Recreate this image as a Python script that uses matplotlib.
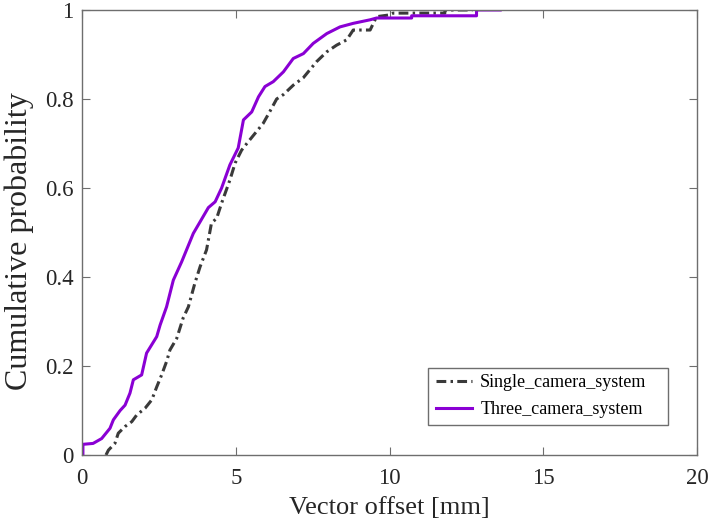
import matplotlib
matplotlib.use("Agg")
import matplotlib.pyplot as plt
from matplotlib.patches import Rectangle

three_x = [0.03, 0.03, 0.36, 0.64, 0.91, 1.02, 1.24, 1.40, 1.56, 1.67, 1.94, 2.10, 2.43, 2.54,
           2.75, 2.97, 3.24, 3.40, 3.62, 3.84, 4.11, 4.33, 4.54, 4.81, 5.08, 5.25, 5.52, 5.74,
           5.95, 6.22, 6.55, 6.87, 7.20, 7.52, 7.96, 8.39, 8.82, 9.37, 9.58, 10.72, 10.72,
           12.83, 12.83, 13.6]
three_y = [0.0, 0.024, 0.026, 0.037, 0.06, 0.079, 0.10, 0.112, 0.139, 0.169, 0.18, 0.229, 0.266,
           0.292, 0.333, 0.393, 0.434, 0.461, 0.498, 0.524, 0.556, 0.569, 0.60, 0.652, 0.69, 0.753,
           0.771, 0.805, 0.828, 0.839, 0.861, 0.891, 0.902, 0.925, 0.947, 0.962, 0.970, 0.978,
           0.982, 0.982, 0.987, 0.987, 1.0, 1.0]

single_x = [0.78, 0.86, 1.07, 1.18, 1.40, 1.62, 1.78, 2.05, 2.27, 2.43, 2.59, 2.75, 2.86, 3.08,
            3.29, 3.46, 3.67, 3.84, 4.05, 4.21, 4.38, 4.54, 4.81, 4.98, 5.19, 5.36, 5.63, 5.89,
            6.11, 6.33, 6.55, 6.87, 7.20, 7.63, 7.96, 8.28, 8.61, 8.82, 9.37, 9.53, 9.58, 10.0,
            10.12, 11.8, 11.8, 12.7]
single_y = [0.0, 0.011, 0.026, 0.049, 0.064, 0.075, 0.09, 0.105, 0.124, 0.153, 0.18, 0.21, 0.236,
            0.262, 0.308, 0.333, 0.386, 0.423, 0.461, 0.521, 0.532, 0.566, 0.618, 0.656, 0.685,
            0.70, 0.723, 0.745, 0.772, 0.80, 0.81, 0.831, 0.848, 0.884, 0.906, 0.921, 0.933, 0.955,
            0.955, 0.978, 0.985, 0.989, 0.993, 0.993, 1.0, 1.0]

x_ticks = [0, 5, 10, 15, 20]
y_ticks = [0, 0.2, 0.4, 0.6, 0.8, 1]
y_tick_labels = ["0", "0.2", "0.4", "0.6", "0.8", "1"]
labels = ["Single_camera_system", "Three_camera_system"]

plt.rcParams['font.family'] = ['Liberation Serif', 'DejaVu Serif']

W, H = 709, 524
fig = plt.figure(figsize=(W / 100, H / 100), dpi=100)
ax_l, ax_b, ax_w, ax_h = 82, 69, 615, 445
ax = fig.add_axes([ax_l / W, ax_b / H, ax_w / W, ax_h / H])

ax.plot(single_x, single_y, color='#3a3a3a', linestyle=(0, (3.2, 1.4, 0.8, 1.4)),
        linewidth=2.2, label=labels[0])
ax.plot(three_x, three_y, color='#8A00D4', linestyle='-',
        linewidth=2.2, label=labels[1])

ax.set_xlim(0, 20)
ax.set_ylim(0, 1)
ax.set_xticks(x_ticks)
ax.set_yticks(y_ticks)
ax.set_yticklabels(y_tick_labels)

axis_color = '#6e6e6e'
for s in ax.spines.values():
    s.set_color(axis_color)
    s.set_linewidth(1.0)
ax.tick_params(direction='in', length=6, width=0.8, colors=axis_color, labelcolor='#262626',
               labelsize=16.5, top=True, right=True)
ax.tick_params(axis='x', pad=9)
ax.tick_params(axis='y', pad=6)

ax.set_xlabel('Vector offset [mm]', fontsize=19, color='#262626', labelpad=6)
ax.set_ylabel('Cumulative probability', fontsize=23, color='#262626')
ax.yaxis.set_label_coords(-0.078, 0.48)


def px_to_ax(px, py):
    """pixel (from top-left of image) -> axes fraction"""
    return (px - ax_l) / ax_w, ((H - py) - ax_b) / ax_h


# Legend (content without frame) and a MATLAB-like box
lx, ly = px_to_ax(436, 374)
leg = ax.legend(loc='upper left', bbox_to_anchor=(lx, ly), borderaxespad=0, borderpad=0,
                fontsize=13, frameon=False, handlelength=2.0, handletextpad=0.45,
                labelspacing=0.55)
bx0, by0 = px_to_ax(428, 425)
bx1, by1 = px_to_ax(668, 368)
ax.add_patch(Rectangle((bx0, by0), bx1 - bx0, by1 - by0, transform=ax.transAxes,
                       facecolor='white', edgecolor=axis_color, linewidth=1.0, zorder=4))
leg.set_zorder(5)

fig.savefig('out.png', dpi=100)
